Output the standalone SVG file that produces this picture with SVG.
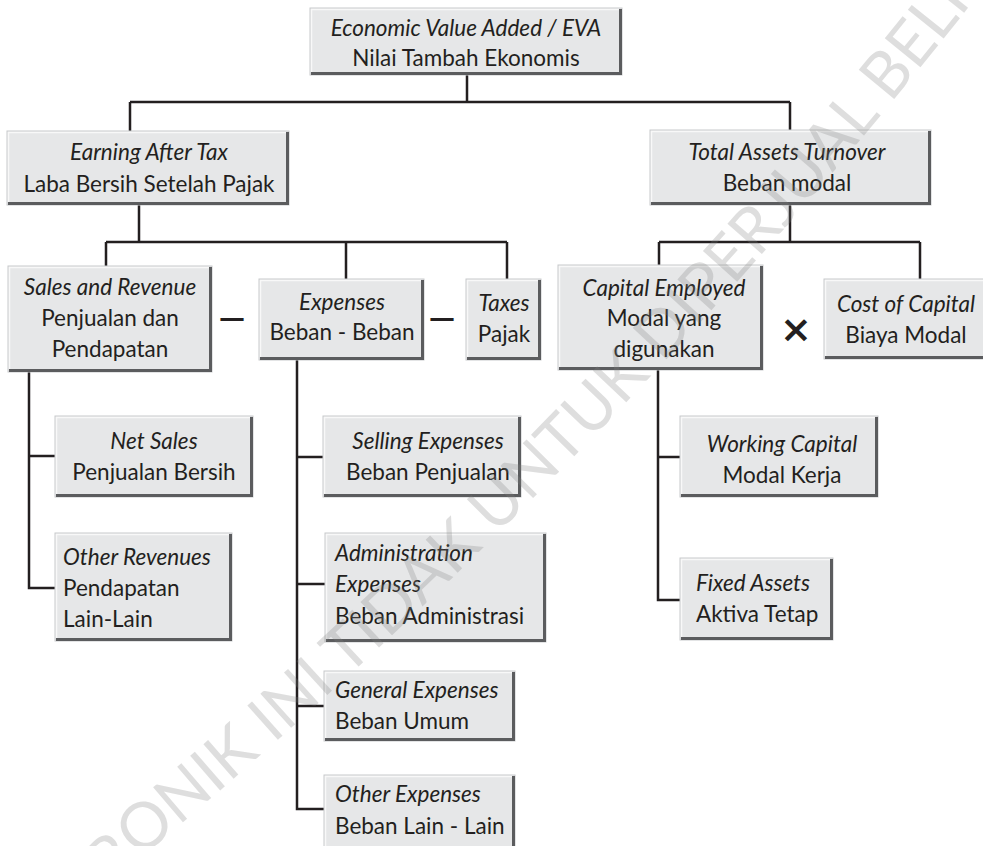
<svg xmlns="http://www.w3.org/2000/svg" width="983" height="846" viewBox="0 0 983 846">
<defs>
<style>
.bx{fill:#e6e7e8;stroke:#c8c9cb;stroke-width:1}
.sh{fill:none;stroke:#5b5c5e;stroke-width:3}
.hl{fill:none;stroke:#f8f8f8;stroke-width:1.5}
text{font-family:Lato,"Open Sans","DejaVu Sans",sans-serif;font-size:22.5px;fill:#231f20}
.c{text-anchor:middle}
.i{font-style:italic}
.cn{fill:none;stroke:#231f20;stroke-width:2.5}
text.mn{font-family:"DejaVu Sans",sans-serif;font-size:37px;text-anchor:middle}
text.mx{font-family:"DejaVu Sans",sans-serif;font-size:38px;font-weight:bold;text-anchor:middle}
text.wm{font-family:Lato,"DejaVu Sans",sans-serif;font-size:64px;fill:#808080;fill-opacity:0.26}
</style>
<path id="wmp" d="M -30,1030 L 150,850 Q 610,465 990,-20"/>
</defs>
<rect width="983" height="846" fill="#ffffff"/>

<g id="connectors">
<path class="cn" d="M467,75 V102 M130,102 H790 M130,102 V131 M790,102 V130"/>
<path class="cn" d="M139,205 V242 M106,242 H507 M106,242 V266 M346,242 V279 M507,242 V279"/>
<path class="cn" d="M790,205 V242 M659,242 H920 M659,242 V265 M920,242 V279"/>
<path class="cn" d="M29,372 V588 H55 M29,456 H55"/>
<path class="cn" d="M297,360 V809 H324 M297,457 H323 M297,584 H325 M297,706 H324"/>
<path class="cn" d="M658,370 V600 H680 M658,457 H680"/>
</g>

<g id="operators">
<text class="mn" x="232" y="331">−</text>
<text class="mn" x="442" y="331">−</text>
<text class="mx" x="796" y="342">×</text>
</g>

<g id="n-eva">
<rect class="bx" x="310" y="8" width="312" height="67"/>
<path class="hl" d="M311.5,72 V9.5 H619"/>
<path class="sh" d="M311,73.5 H620.5 V9"/>
<text class="c i" x="466" y="36">Economic Value Added / EVA</text>
<text class="c" x="466" y="66">Nilai Tambah Ekonomis</text>
</g>

<g id="n-earning">
<rect class="bx" x="7" y="131" width="282" height="74"/>
<path class="hl" d="M8.5,202 V132.5 H286"/>
<path class="sh" d="M8,203.5 H287.5 V132"/>
<text class="c i" x="149" y="160">Earning After Tax</text>
<text class="c" x="149" y="192">Laba Bersih Setelah Pajak</text>
</g>

<g id="n-tat">
<rect class="bx" x="650" y="130" width="281" height="75"/>
<path class="hl" d="M651.5,202 V131.5 H928"/>
<path class="sh" d="M651,203.5 H929.5 V131"/>
<text class="c i" x="787" y="160">Total Assets Turnover</text>
<text class="c" x="787" y="191">Beban modal</text>
</g>

<g id="n-sales">
<rect class="bx" x="8" y="266" width="204" height="106"/>
<path class="hl" d="M9.5,369 V267.5 H209"/>
<path class="sh" d="M9,370.5 H210.5 V267"/>
<text class="c i" x="110" y="295">Sales and Revenue</text>
<text class="c" x="110" y="326">Penjualan dan</text>
<text class="c" x="110" y="357">Pendapatan</text>
</g>

<g id="n-expenses">
<rect class="bx" x="259" y="279" width="165" height="81"/>
<path class="hl" d="M260.5,357 V280.5 H421"/>
<path class="sh" d="M260,358.5 H422.5 V280"/>
<text class="c i" x="342" y="310">Expenses</text>
<text class="c" x="342" y="340">Beban - Beban</text>
</g>

<g id="n-taxes">
<rect class="bx" x="466" y="279" width="75" height="81"/>
<path class="hl" d="M467.5,357 V280.5 H538"/>
<path class="sh" d="M467,358.5 H539.5 V280"/>
<text class="c i" x="504" y="311">Taxes</text>
<text class="c" x="504" y="342">Pajak</text>
</g>

<g id="n-capemp">
<rect class="bx" x="558" y="265" width="205" height="105"/>
<path class="hl" d="M559.5,367 V266.5 H760"/>
<path class="sh" d="M559,368.5 H761.5 V266"/>
<text class="c i" x="664" y="296">Capital Employed</text>
<text class="c" x="664" y="326">Modal yang</text>
<text class="c" x="664" y="357">digunakan</text>
</g>

<g id="n-coc">
<rect class="bx" x="824" y="279" width="162" height="80"/>
<path class="hl" d="M825.5,356 V280.5 H986"/>
<path class="sh" d="M825,357.5 H986"/>
<text class="c i" x="906" y="312">Cost of Capital</text>
<text class="c" x="906" y="343">Biaya Modal</text>
</g>

<g id="n-netsales">
<rect class="bx" x="55" y="416" width="198" height="81"/>
<path class="hl" d="M56.5,494 V417.5 H250"/>
<path class="sh" d="M56,495.5 H251.5 V417"/>
<text class="c i" x="154" y="449">Net Sales</text>
<text class="c" x="154" y="480">Penjualan Bersih</text>
</g>

<g id="n-otherrev">
<rect class="bx" x="55" y="533" width="177" height="108"/>
<path class="hl" d="M56.5,638 V534.5 H229"/>
<path class="sh" d="M56,639.5 H230.5 V534"/>
<text class="i" x="63" y="565">Other Revenues</text>
<text x="63" y="596">Pendapatan</text>
<text x="63" y="627">Lain-Lain</text>
</g>

<g id="n-selling">
<rect class="bx" x="323" y="416" width="198" height="81"/>
<path class="hl" d="M324.5,494 V417.5 H518"/>
<path class="sh" d="M324,495.5 H519.5 V417"/>
<text class="c i" x="428" y="449">Selling Expenses</text>
<text class="c" x="428" y="480">Beban Penjualan</text>
</g>

<g id="n-admin">
<rect class="bx" x="325" y="533" width="221" height="109"/>
<path class="hl" d="M326.5,639 V534.5 H543"/>
<path class="sh" d="M326,640.5 H544.5 V534"/>
<text class="i" x="335" y="561">Administration</text>
<text class="i" x="335" y="592">Expenses</text>
<text x="335" y="624">Beban Administrasi</text>
</g>

<g id="n-general">
<rect class="bx" x="324" y="671" width="191" height="70"/>
<path class="hl" d="M325.5,738 V672.5 H512"/>
<path class="sh" d="M325,739.5 H513.5 V672"/>
<text class="i" x="335" y="698">General Expenses</text>
<text x="335" y="729">Beban Umum</text>
</g>

<g id="n-otherexp">
<rect class="bx" x="324" y="775" width="191" height="72"/>
<path class="hl" d="M325.5,846 V776.5 H512"/>
<path class="sh" d="M513.5,846 V776"/>
<text class="i" x="335" y="802">Other Expenses</text>
<text x="335" y="834">Beban Lain - Lain</text>
</g>

<g id="n-working">
<rect class="bx" x="680" y="416" width="198" height="81"/>
<path class="hl" d="M681.5,494 V417.5 H875"/>
<path class="sh" d="M681,495.5 H876.5 V417"/>
<text class="c i" x="782" y="452">Working Capital</text>
<text class="c" x="782" y="483">Modal Kerja</text>
</g>

<g id="n-fixed">
<rect class="bx" x="680" y="558" width="153" height="82"/>
<path class="hl" d="M681.5,637 V559.5 H830"/>
<path class="sh" d="M681,638.5 H831.5 V559"/>
<text class="i" x="696" y="591">Fixed Assets</text>
<text x="696" y="622">Aktiva Tetap</text>
</g>

<g id="watermark">
<text class="wm"><textPath href="#wmp" startOffset="14">ELEKTRONIK INI TIDAK UNTUK DIPERJUAL BELIKAN</textPath></text>
</g>
</svg>
